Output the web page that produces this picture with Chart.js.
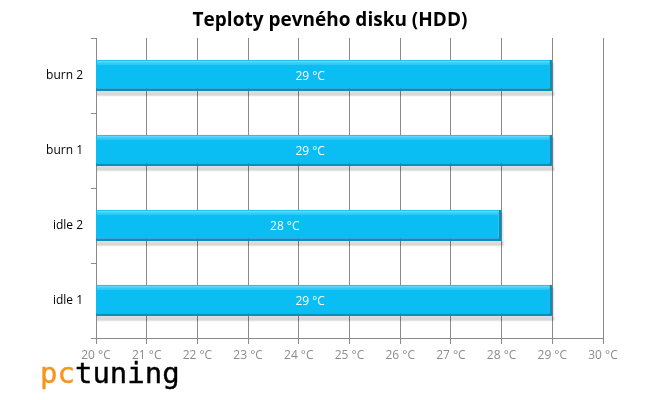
<!DOCTYPE html>
<html><head><meta charset="utf-8">
<script src="https://cdn.jsdelivr.net/npm/chart.js@4"></script>
<style>html,body{margin:0;padding:0;background:#fff}#wrap{width:660px;height:400px}</style>
</head><body><div id="wrap"><canvas id="c" width="660" height="400"></canvas></div>
<script>
const chartTitle = 'Teploty pevného disku (HDD)';
const categories = ['burn 2', 'burn 1', 'idle 2', 'idle 1'];
const temps = [29, 29, 28, 29];
const xMin = 20, xMax = 30;
const unit = ' °C';

function barBoxes(chart) {
  const xs = chart.scales.x, meta = chart.getDatasetMeta(0);
  return meta.data.map((bar, i) => {
    const p = bar.getProps(['y', 'height'], true);
    return {x0: xs.getPixelForValue(xMin), x1: xs.getPixelForValue(temps[i]), y: p.y, h: p.height};
  });
}

const decor = {
  id: 'decor',
  beforeDatasetsDraw(chart) {
    const ctx = chart.ctx;
    ctx.save();
    barBoxes(chart).forEach(b => {
      ctx.fillStyle = 'rgba(0,0,0,0.10)';
      ctx.fillRect(b.x0 + 1, b.y - b.h / 2 + 3, b.x1 - b.x0 + 1, b.h + 2);
      ctx.fillStyle = 'rgba(0,0,0,0.06)';
      ctx.fillRect(b.x0 + 1, b.y + b.h / 2 + 1, b.x1 - b.x0 + 2, 3);
    });
    ctx.restore();
  },
  afterDatasetsDraw(chart) {
    const ctx = chart.ctx;
    ctx.save();
    barBoxes(chart).forEach(b => {
      const top = b.y - b.h / 2;
      ctx.fillStyle = '#5fd6fb';
      ctx.fillRect(b.x0 + 1, top + 1, b.x1 - b.x0 - 4, 2);
      ctx.fillStyle = '#36cbf7';
      ctx.fillRect(b.x0 + 1, top + 3, b.x1 - b.x0 - 4, 2);
    });
    ctx.restore();
  },
  afterDraw(chart) {
    const ctx = chart.ctx;
    ctx.save();
    ctx.fillStyle = '#000';
    ctx.font = 'bold 19px "Open Sans", "Liberation Sans", sans-serif';
    ctx.textAlign = 'center';
    ctx.textBaseline = 'middle';
    ctx.fillText(chartTitle, 330, 21);
    ctx.font = '12px "Open Sans", "Liberation Sans", sans-serif';
    ctx.fillStyle = '#ffffff';
    barBoxes(chart).forEach((b, i) => {
      const cx = (b.x0 + b.x1) / 2 - 14;
      ctx.fillText(temps[i] + unit, cx, b.y + 1);
    });
    ctx.textAlign = 'left';
    ctx.textBaseline = 'alphabetic';
    ctx.font = '29px "DejaVu Sans Mono", monospace';
    ctx.lineWidth = 0.4;
    ctx.fillStyle = '#f7941d';
    ctx.strokeStyle = '#f7941d';
    ctx.fillText('pc', 40, 383);
    ctx.strokeText('pc', 40, 383);
    const w = ctx.measureText('pc').width;
    ctx.fillStyle = '#000';
    ctx.strokeStyle = '#000';
    ctx.fillText('tuning', 40 + w, 383);
    ctx.strokeText('tuning', 40 + w, 383);
    ctx.restore();
  }
};

new Chart(document.getElementById('c'), {
  type: 'bar',
  data: {
    labels: categories,
    datasets: [{
      data: temps,
      backgroundColor: '#0abdf2',
      borderColor: '#0a8fba',
      borderWidth: {top: 0, left: 1, right: 3, bottom: 3},
      borderSkipped: false,
      categoryPercentage: 1,
      barPercentage: 0.42
    }]
  },
  options: {
    indexAxis: 'y',
    responsive: false,
    animation: false,
    layout: {padding: {top: 38, right: 57, left: 0, bottom: 0}},
    plugins: {legend: {display: false}, title: {display: false}, tooltip: {enabled: false}},
    scales: {
      x: {
        min: xMin, max: xMax,
        afterFit(s) { s.height = 62; },
        grid: {color: '#8a8a8a', lineWidth: 1, tickLength: 6, drawTicks: true},
        border: {color: '#8a8a8a'},
        ticks: {stepSize: 1, color: '#8c8c8c', padding: 4,
          font: {size: 12, family: '"Open Sans", "Liberation Sans", sans-serif'},
          callback: v => v + unit}
      },
      y: {
        afterFit(s) { s.width = 96; },
        grid: {drawOnChartArea: false, color: '#8a8a8a', tickLength: 5, offset: true},
        border: {color: '#8a8a8a'},
        ticks: {color: '#000', padding: 8,
          font: {size: 12, family: '"Open Sans", "Liberation Sans", sans-serif'}}
      }
    }
  },
  plugins: [decor]
});
</script>
</body></html>
